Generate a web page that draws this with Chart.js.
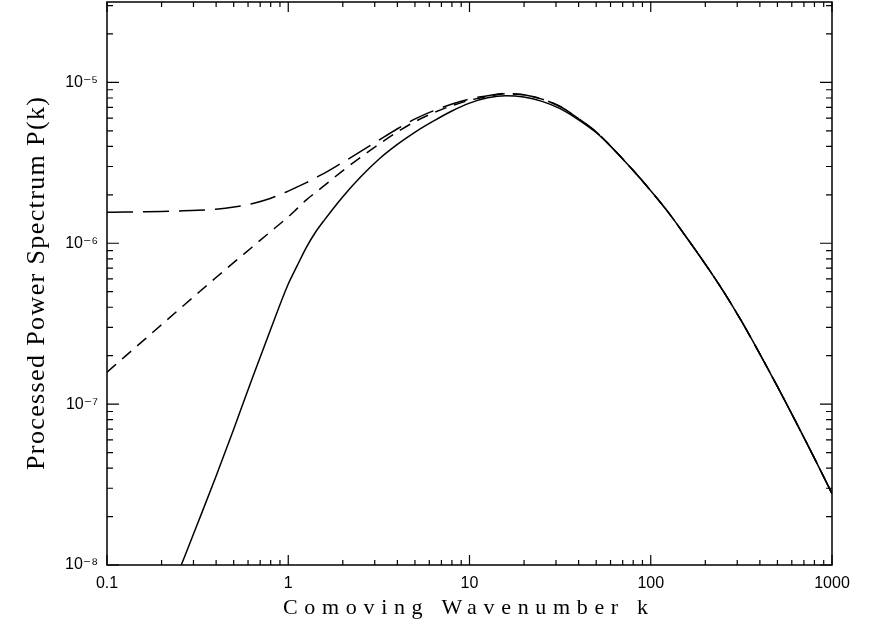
<!DOCTYPE html>
<html>
<head>
<meta charset="utf-8">
<script src="https://cdn.jsdelivr.net/npm/chart.js@4.4.1/dist/chart.umd.min.js"></script>
<style>
  html, body { margin: 0; padding: 0; background: #fff; }
  #wrap { width: 892px; height: 625px; }
</style>
</head>
<body>
<div id="wrap"><canvas id="c" width="892" height="625"></canvas></div>
<script>
// ---- data ----
const k = [0.1, 0.1259, 0.1585, 0.1995, 0.2512, 0.3162, 0.3981, 0.5012, 0.631, 0.7943, 1, 1.122, 1.259, 1.413, 1.585, 1.995, 2.512, 3.162, 3.981, 5.012, 6.31, 7.943, 10, 12.59, 15.85, 19.95, 25.12, 31.62, 39.81, 50.12, 63.1, 79.43, 100, 125.9, 158.5, 199.5, 251.2, 316.2, 398.1, 501.2, 631, 794.3, 1000];

const solidP = [null, null, null, null, 9.38e-9, 1.81e-8, 3.52e-8, 7.03e-8, 1.435e-7, 2.86e-7, 5.58e-7, 7.28e-7, 9.44e-7, 1.17e-6, 1.397e-6, 1.94e-6, 2.59e-6, 3.33e-6, 4.10e-6, 4.91e-6, 5.74e-6, 6.62e-6, 7.43e-6, 8.02e-6, 8.26e-6, 8.11e-6, 7.62e-6, 6.87e-6, 5.87e-6, 4.86e-6, 3.79e-6, 2.86e-6, 2.12e-6, 1.54e-6, 1.076e-6, 7.45e-7, 5.04e-7, 3.29e-7, 2.07e-7, 1.28e-7, 7.78e-8, 4.68e-8, 2.78e-8];

const shortDashP = [1.58e-7, 1.98e-7, 2.48e-7, 3.11e-7, 3.9e-7, 4.88e-7, 6.1e-7, 7.6e-7, 9.45e-7, 1.175e-6, 1.459e-6, 1.648e-6, 1.862e-6, 2.065e-6, 2.29e-6, 2.82e-6, 3.43e-6, 4.12e-6, 4.90e-6, 5.71e-6, 6.46e-6, 7.14e-6, 7.74e-6, 8.18e-6, 8.49e-6, 8.37e-6, 7.87e-6, 7.08e-6, 5.97e-6, 4.91e-6, 3.79e-6, 2.86e-6, 2.12e-6, 1.54e-6, 1.076e-6, 7.45e-7, 5.04e-7, 3.29e-7, 2.07e-7, 1.28e-7, 7.78e-8, 4.68e-8, 2.78e-8];

const longDashP = [1.56e-6, 1.563e-6, 1.57e-6, 1.578e-6, 1.589e-6, 1.603e-6, 1.629e-6, 1.679e-6, 1.762e-6, 1.897e-6, 2.11e-6, 2.24e-6, 2.38e-6, 2.55e-6, 2.73e-6, 3.18e-6, 3.72e-6, 4.37e-6, 5.13e-6, 5.93e-6, 6.65e-6, 7.31e-6, 7.89e-6, 8.26e-6, 8.53e-6, 8.37e-6, 7.87e-6, 7.08e-6, 5.97e-6, 4.91e-6, 3.79e-6, 2.86e-6, 2.12e-6, 1.54e-6, 1.076e-6, 7.45e-7, 5.04e-7, 3.29e-7, 2.07e-7, 1.28e-7, 7.78e-8, 4.68e-8, 2.78e-8];

const xTicks = [0.1, 1, 10, 100, 1000];
const xTickLabels = ['0.1', '1', '10', '100', '1000'];
const yTicks = [1e-8, 1e-7, 1e-6, 1e-5];
const yTickLabels = ['10\u207B\u2078', '10\u207B\u2077', '10\u207B\u2076', '10\u207B\u2075'];

const xMin = 0.1, xMax = 1000;
const yMin = 1e-8, yMax = 3.16e-5;

const xTitle = 'Comoving Wavenumber k';
const yTitle = 'Processed Power Spectrum P(k)';

// ---- helpers ----
function pts(arr) { return k.map((kv, i) => ({ x: kv, y: arr[i] })); }

const framePlugin = {
  id: 'frame',
  afterDatasetsDraw(chart) {
    const { ctx, chartArea: a, scales } = chart;
    const xs = scales.x, ys = scales.y;
    ctx.save();
    ctx.strokeStyle = '#000';
    ctx.lineWidth = 1.5;
    ctx.strokeRect(a.left, a.top, a.right - a.left, a.bottom - a.top);
    ctx.lineWidth = 1.2;
    ctx.beginPath();
    for (let d = -1; d <= 3; d++) {
      for (let m = 1; m <= 9; m++) {
        const v = m * Math.pow(10, d);
        if (v < xMin * 0.999 || v > xMax * 1.001) continue;
        const px = xs.getPixelForValue(v);
        const len = (m === 1) ? 10 : 5;
        ctx.moveTo(px, a.bottom); ctx.lineTo(px, a.bottom - len);
        ctx.moveTo(px, a.top); ctx.lineTo(px, a.top + len);
      }
    }
    for (let d = -8; d <= -5; d++) {
      for (let m = 1; m <= 9; m++) {
        const v = m * Math.pow(10, d);
        if (v < yMin * 0.999 || v > yMax) continue;
        const py = ys.getPixelForValue(v);
        const len = (m === 1) ? 12 : 6;
        ctx.moveTo(a.left, py); ctx.lineTo(a.left + len, py);
        ctx.moveTo(a.right, py); ctx.lineTo(a.right - len, py);
      }
    }
    ctx.stroke();
    ctx.restore();
  },
  afterDraw(chart) {
    const { ctx } = chart;
    ctx.save();
    ctx.fillStyle = '#000';
    ctx.font = '22px "Liberation Serif", "DejaVu Serif", serif';
    ctx.textBaseline = 'alphabetic';
    ctx.textAlign = 'left';
    let w0 = ctx.measureText(xTitle).width;
    const xW = 365;
    ctx.letterSpacing = ((xW - w0) / (xTitle.length - 1)).toFixed(2) + 'px';
    ctx.fillText(xTitle, 283, 614);
    ctx.font = '26px "Liberation Serif", "DejaVu Serif", serif';
    ctx.letterSpacing = '0px';
    w0 = ctx.measureText(yTitle).width;
    const yW = 373;
    ctx.letterSpacing = ((yW - w0) / (yTitle.length - 1)).toFixed(2) + 'px';
    ctx.translate(44, 470);
    ctx.rotate(-Math.PI / 2);
    ctx.fillText(yTitle, 0, 0);
    ctx.restore();
  }
};

new Chart(document.getElementById('c'), {
  type: 'line',
  data: {
    datasets: [
      { label: 'solid', data: pts(solidP), borderColor: '#000', borderWidth: 1.5, pointRadius: 0, fill: false, cubicInterpolationMode: 'monotone' },
      { label: 'short dash', data: pts(shortDashP), borderColor: '#000', borderWidth: 1.5, borderDash: [12, 8], pointRadius: 0, fill: false, cubicInterpolationMode: 'monotone' },
      { label: 'long dash', data: pts(longDashP), borderColor: '#000', borderWidth: 1.5, borderDash: [26, 10], pointRadius: 0, fill: false, cubicInterpolationMode: 'monotone' }
    ]
  },
  options: {
    responsive: false,
    animation: false,
    devicePixelRatio: 1,
    layout: { padding: { top: 2, right: 60, left: 0, bottom: 0 } },
    plugins: { legend: { display: false }, tooltip: { enabled: false }, title: { display: false } },
    scales: {
      x: {
        type: 'logarithmic',
        min: xMin, max: xMax,
        grid: { display: false, drawTicks: false },
        border: { display: false },
        afterBuildTicks(s) { s.ticks = xTicks.map(v => ({ value: v })); },
        afterFit(s) { s.height = 60; s.paddingLeft = 0; s.paddingRight = 0; },
        ticks: {
          autoSkip: false, maxRotation: 0, padding: 9, color: '#000',
          font: { family: '"Liberation Sans", "DejaVu Sans", sans-serif', size: 16 },
          callback(v) { const i = xTicks.findIndex(t => Math.abs(t - v) / t < 1e-6); return i >= 0 ? xTickLabels[i] : ''; }
        }
      },
      y: {
        type: 'logarithmic',
        min: yMin, max: yMax,
        grid: { display: false, drawTicks: false },
        border: { display: false },
        afterBuildTicks(s) { s.ticks = yTicks.map(v => ({ value: v })); },
        afterFit(s) { s.width = 107; s.paddingTop = 0; s.paddingBottom = 0; },
        ticks: {
          autoSkip: false, padding: 9, color: '#000',
          font: { family: '"Liberation Sans", "DejaVu Sans", sans-serif', size: 16 },
          callback(v) { const i = yTicks.findIndex(t => Math.abs(t - v) / t < 1e-6); return i >= 0 ? yTickLabels[i] : ''; }
        }
      }
    }
  },
  plugins: [framePlugin]
});
</script>
</body>
</html>
